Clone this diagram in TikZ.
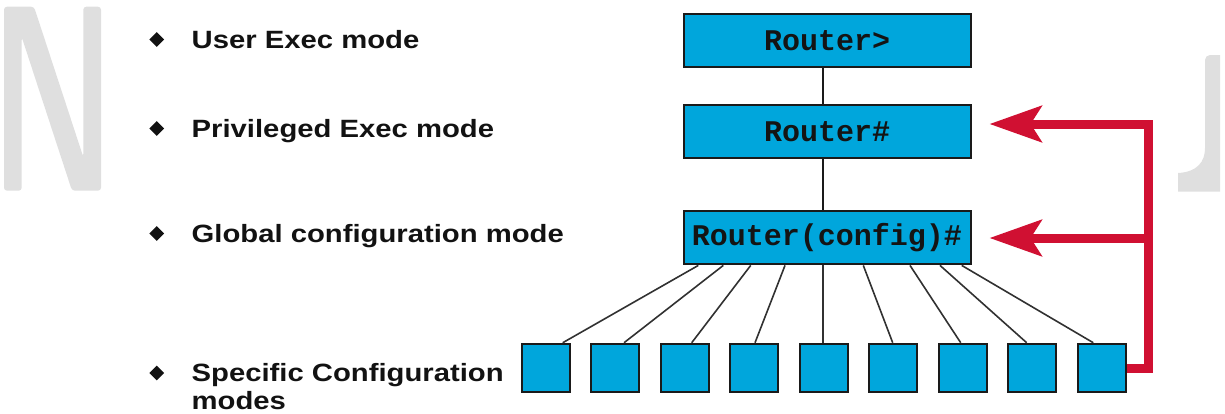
\documentclass[tikz,border=0pt]{standalone}
\usepackage{fontspec}
\newfontfamily\labfont[FakeStretch=1.17]{Liberation Sans}
\newfontfamily\cmdfont{Liberation Mono}
\usetikzlibrary{arrows.meta,calc,shapes.geometric}
\definecolor{boxblue}{RGB}{0,166,220}
\definecolor{redc}{RGB}{208,16,50}
\definecolor{wmgray}{RGB}{223,223,223}
\definecolor{edgec}{RGB}{26,26,26}
\begin{document}
\begin{tikzpicture}[x=1pt,y=-1pt,
  bigbox/.style={draw=edgec,line width=2pt,fill=boxblue,minimum width=287pt,minimum height=53pt,inner sep=0pt,text=black!92,font=\cmdfont\bfseries\fontsize{30}{30}\selectfont},
  smallbox/.style={draw=edgec,line width=2pt,fill=boxblue,minimum width=48pt,minimum height=48.5pt,inner sep=0pt},
  modetext/.style={anchor=base west,inner sep=0pt,text=black!93,font=\labfont\bfseries\fontsize{25}{27.5}\selectfont},
  bulletd/.style={diamond,fill=black!93,inner sep=0pt,minimum width=15pt,minimum height=15pt},
  fan/.style={draw=edgec!90,line width=1.6pt},
  link/.style={draw=edgec,line width=1.8pt},
  redline/.style={draw=redc,line width=9pt},
  redarrow/.style={redline,-{Stealth[length=52pt,width=36pt,inset=11pt]}},
]
\useasboundingbox (0,0) rectangle (1225,413);
% watermarks
\fill[wmgray,rounded corners=3pt] (4,6.7) -- (34,6.7) -- (83.3,157) -- (83.3,6.7) -- (101,6.7) -- (101,190.7) -- (72,190.7) -- (21.7,37) -- (21.7,190.7) -- (4,190.7) -- cycle;
\fill[wmgray] (1205,60) arc[start angle=180,end angle=90,radius=5pt] -- (1220,55) -- (1220,191.7) -- (1178,191.7) -- (1178,173) .. controls (1197,172) and (1205,162) .. (1205,148) -- cycle;
% labels
\node[bulletd] (b1) at (156.7,39.5) {};
\node[modetext] (m1) at (191.5,48) {User Exec mode};
\node[bulletd] (b2) at (156.7,128.5) {};
\node[modetext] (m2) at (191.5,137) {Privileged Exec mode};
\node[bulletd] (b3) at (156.7,233.5) {};
\node[modetext] (m3) at (191.5,242) {Global configuration mode};
\node[bulletd] (b4) at (156.7,373) {};
\node[modetext] (m4) at (191.5,381.5) {Specific Configuration};
\node[modetext] (m5) at (191.5,409) {modes};
% mode boxes
\node[bigbox] (r1) at (827,40.2) {Router>};
\node[bigbox] (r2) at (827,131.3) {Router\#};
\node[bigbox] (r3) at (827,237.9) {Router(config)\#};
\foreach \i in {1,...,9}{
  \node[smallbox] (s\i) at ({545.7+69.5*(\i-1)},368) {};
}
\draw[link] ($(r1.south)+(-4.3,0)$) -- ($(r2.north)+(-4.3,0)$);
\draw[link] ($(r2.south)+(-4.3,0)$) -- ($(r3.north)+(-4.3,0)$);
\foreach \i/\tx/\bx in {1/-128.7/17,2/-103.7/8.8,3/-76.3/7,4/-42/0.8,5/-4.3/-1,6/36.3/-0.5,7/83/-2,8/113/-5.5,9/134.7/-8.4}{
  \draw[fan] ($(r3.south)+(\tx,0)$) -- ($(s\i.north)+(\bx,0)$);
}
% red return arrows
\coordinate (c1) at (1148,124);
\coordinate (t1) at (989.5,124);
\coordinate (c2) at (1148,238);
\coordinate (t2) at (989.5,238);
\draw[redarrow] (s9.east) -| (c1) -- (t1);
\draw[redarrow] (c2) -- (t2);
\end{tikzpicture}
\end{document}
